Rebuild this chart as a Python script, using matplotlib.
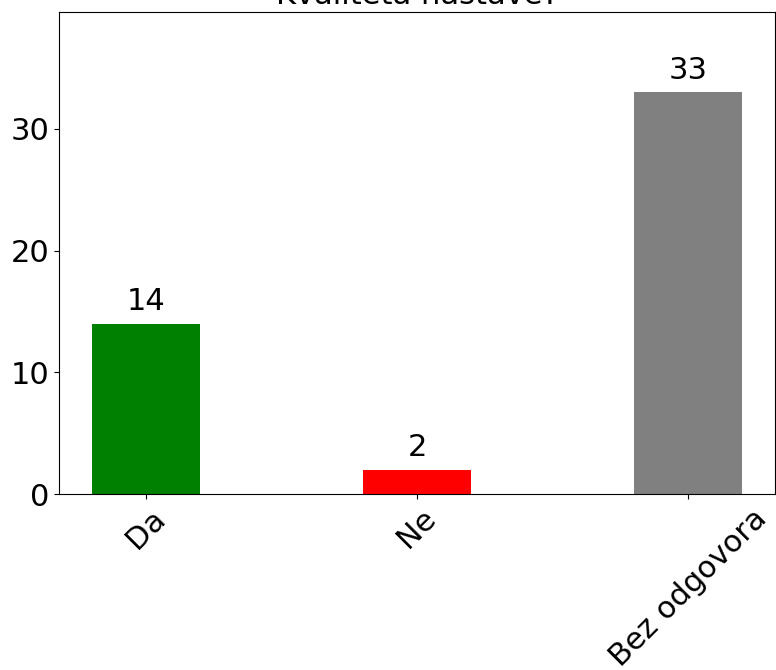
import matplotlib
matplotlib.use('Agg')
import matplotlib.pyplot as plt

categories = ['Da', 'Ne', 'Bez odgovora']
counts = [14, 2, 33]
colors = ['green', 'red', 'gray']
title = 'Kvaliteta nastave?'

fig = plt.figure(figsize=(7.76, 6.7), dpi=100)
ax = fig.add_axes([59/776, 176/670, 716/776, 482/670])
bars = ax.bar(categories, counts, color=colors, width=0.4)
for b, v in zip(bars, counts):
    ax.text(b.get_x() + b.get_width()/2, v + 0.6, str(v), ha='center', va='bottom', fontsize=22)
ax.set_ylim(0, max(counts)*1.2)
ax.set_title(title, fontsize=22)
ax.tick_params(axis='both', labelsize=22)
plt.setp(ax.get_xticklabels(), rotation=45)
fig.savefig('out.png', dpi=100)
